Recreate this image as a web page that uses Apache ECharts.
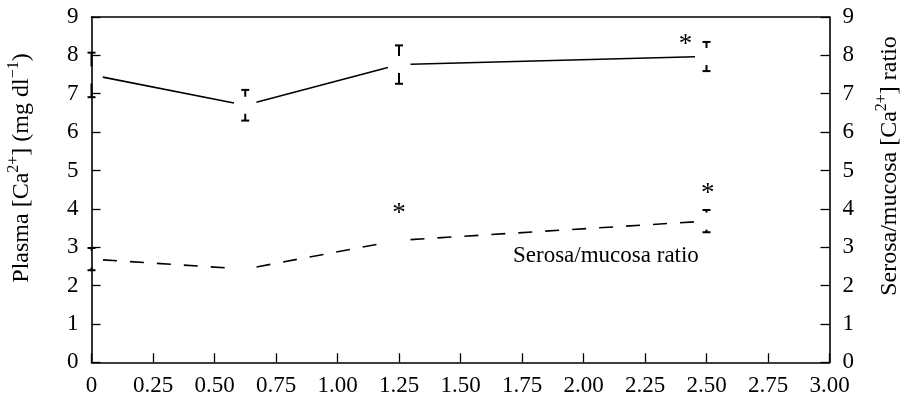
<!DOCTYPE html>
<html><head><meta charset="utf-8">
<script src="https://cdn.jsdelivr.net/npm/echarts@6/dist/echarts.min.js"></script>
<style>html,body{margin:0;padding:0;background:#fff}#c{width:901px;height:401px}</style>
</head><body><div id="c"></div>
<script>
// ---- data ----
const xTickValues = [0, 0.25, 0.5, 0.75, 1, 1.25, 1.5, 1.75, 2, 2.25, 2.5, 2.75, 3];
const yTickValues = [0, 1, 2, 3, 4, 5, 6, 7, 8, 9];
const doseX = [0, 0.625, 1.25, 2.5];
const plasmaMean = [7.49, 6.70, 7.76, 7.97];
const plasmaErr = [0.58, 0.40, 0.50, 0.38];
const ratioMean = [2.69, 2.43, 3.18, 3.68];
const ratioErr = [0.29, null, null, 0.29];
const starX = [2.415, 1.25, 2.505];
const starY = [8.37, 3.97, 4.49];
const ratioLabel = 'Serosa/mucosa ratio';

// ---- style ----
const FONT = 'Liberation Serif';
const FS = 23;
const GAP = 11.5;     // blank around each point on connecting lines
const EGAP = 8.5;     // blank around point on error bar stems
const CAP = 4;

function segData(xs, ys) {
  const out = [];
  for (let i = 0; i < xs.length - 1; i++) out.push([xs[i], ys[i], xs[i + 1], ys[i + 1]]);
  return out;
}
function errData(xs, ys, es) {
  const out = [];
  for (let i = 0; i < xs.length; i++) if (es[i] != null) out.push([xs[i], ys[i], es[i]]);
  return out;
}
function segSeries(data, dash, yAxisIndex) {
  return {
    type: 'custom', yAxisIndex: yAxisIndex, data: data, silent: true, clip: false,
    encode: { x: [0, 2], y: [1, 3] },
    renderItem: function (params, api) {
      const p0 = api.coord([api.value(0), api.value(1)]);
      const p1 = api.coord([api.value(2), api.value(3)]);
      const dx = p1[0] - p0[0], dy = p1[1] - p0[1];
      const L = Math.sqrt(dx * dx + dy * dy);
      const ux = dx / L, uy = dy / L;
      return {
        type: 'line',
        shape: { x1: p0[0] + ux * GAP, y1: p0[1] + uy * GAP, x2: p1[0] - ux * GAP, y2: p1[1] - uy * GAP },
        style: { stroke: '#000', lineWidth: 1.6, lineDash: dash, fill: null }
      };
    }
  };
}
function errSeries(data, yAxisIndex) {
  return {
    type: 'custom', yAxisIndex: yAxisIndex, data: data, silent: true, clip: false,
    encode: { x: 0, y: 1 },
    renderItem: function (params, api) {
      const x = api.value(0), m = api.value(1), e = api.value(2);
      const c = api.coord([x, m]);
      const hi = api.coord([x, m + e]);
      const lo = api.coord([x, m - e]);
      const st = { stroke: '#000', lineWidth: 2 };
      const ch = [
        { type: 'line', shape: { x1: hi[0] - CAP, y1: hi[1], x2: hi[0] + CAP, y2: hi[1] }, style: st },
        { type: 'line', shape: { x1: lo[0] - CAP, y1: lo[1], x2: lo[0] + CAP, y2: lo[1] }, style: st }
      ];
      if (c[1] - EGAP > hi[1]) ch.push({ type: 'line', shape: { x1: c[0], y1: hi[1], x2: c[0], y2: c[1] - EGAP }, style: st });
      if (c[1] + EGAP < lo[1]) ch.push({ type: 'line', shape: { x1: c[0], y1: c[1] + EGAP, x2: c[0], y2: lo[1] }, style: st });
      return { type: 'group', children: ch };
    }
  };
}

const starData = starX.map((x, i) => [x, starY[i]]);

const chart = echarts.init(document.getElementById('c'), null, { renderer: 'canvas' });
const axisLabelStyle = { color: '#000', fontFamily: FONT, fontSize: FS };
const yAxisCommon = {
  type: 'value', min: 0, max: 9, interval: 1,
  axisLine: { show: true, onZero: false, lineStyle: { color: '#000', width: 1.6 } },
  axisTick: { show: true, inside: true, length: 9, lineStyle: { color: '#000', width: 1.3 } },
  splitLine: { show: false },
  axisLabel: Object.assign({ margin: 13 }, axisLabelStyle)
};
const richTitle = {
  a: { fontFamily: FONT, fontSize: 24, lineHeight: 32, fill: '#000' },
  s: { fontFamily: FONT, fontSize: 16, verticalAlign: 'top', fill: '#000' }
};

chart.setOption({
  animation: false,
  backgroundColor: '#fff',
  grid: { left: 91.5, right: 71.5, top: 17, bottom: 38.7, containLabel: false },
  xAxis: [{
    type: 'value', min: 0, max: 3, interval: 0.25,
    axisLine: { show: true, onZero: false, lineStyle: { color: '#000', width: 1.6 } },
    axisTick: { show: true, inside: true, length: 9, lineStyle: { color: '#000', width: 1.3 } },
    splitLine: { show: false },
    axisLabel: Object.assign({ margin: 12, formatter: v => (v === 0 ? '0' : v.toFixed(2)) }, axisLabelStyle)
  }, {
    type: 'value', min: 0, max: 3, position: 'top',
    axisLine: { show: true, onZero: false, lineStyle: { color: '#000', width: 1.6 } },
    axisTick: { show: false }, axisLabel: { show: false }, splitLine: { show: false }
  }],
  yAxis: [
    Object.assign({ position: 'left' }, yAxisCommon),
    Object.assign({ position: 'right' }, yAxisCommon)
  ],
  graphic: [
    {
      type: 'text', x: 22, y: 168, rotation: Math.PI / 2,
      style: {
        text: '{a|Plasma [Ca}{s|2+}{a|] (mg dl}{s|−1}{a|)}',
        align: 'center', verticalAlign: 'middle', fill: '#000', rich: richTitle
      }
    },
    {
      type: 'text', x: 890, y: 166, rotation: Math.PI / 2,
      style: {
        text: '{a|Serosa/mucosa [Ca}{s|2+}{a|] ratio}',
        align: 'center', verticalAlign: 'middle', fill: '#000', rich: richTitle
      }
    },
    {
      type: 'text', x: 513, y: 256,
      style: { text: ratioLabel, fontFamily: FONT, fontSize: FS, fill: '#000', align: 'left', verticalAlign: 'middle' }
    }
  ],
  series: [
    segSeries(segData(doseX, plasmaMean), null, 0),
    errSeries(errData(doseX, plasmaMean, plasmaErr), 0),
    segSeries(segData(doseX, ratioMean), [14, 13], 1),
    errSeries(errData(doseX, ratioMean, ratioErr), 1),
    {
      type: 'custom', data: starData, silent: true, clip: false,
      encode: { x: 0, y: 1 },
      renderItem: function (params, api) {
        const p = api.coord([api.value(0), api.value(1)]);
        return {
          type: 'text', x: p[0], y: p[1] + 4,
          style: { text: '*', fontFamily: FONT, fontSize: 27, fill: '#000', align: 'center', verticalAlign: 'middle' }
        };
      }
    }
  ]
});
</script>
</body></html>
